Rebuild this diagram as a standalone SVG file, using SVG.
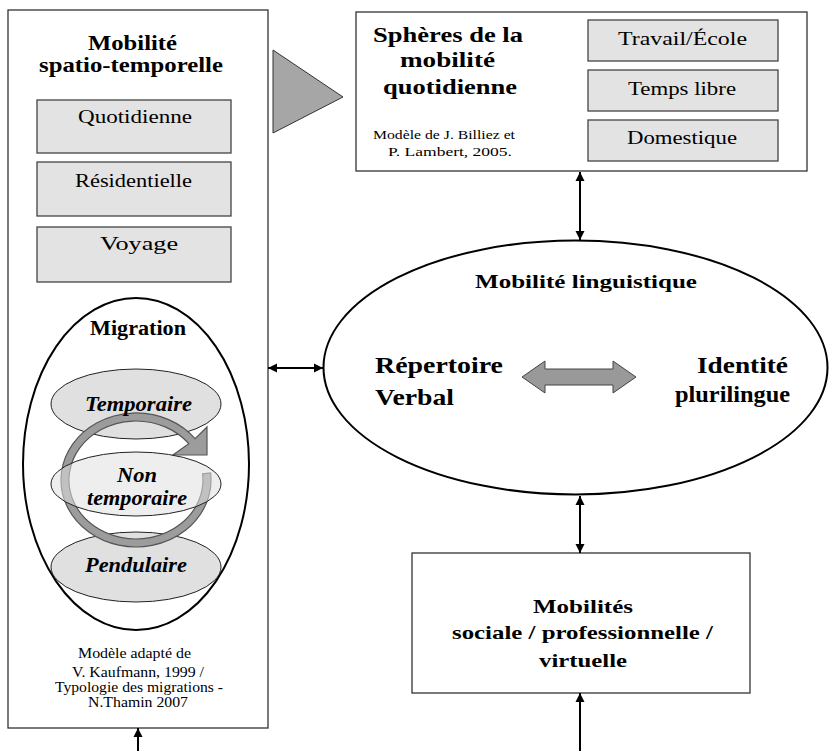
<svg xmlns="http://www.w3.org/2000/svg" width="830" height="751" viewBox="0 0 830 751">
<style>
.box{fill:#ffffff;stroke:#333333;stroke-width:1.3}
.sub{fill:#e3e3e3;stroke:#444444;stroke-width:1.3}
.oval{fill:#e0e0e0;stroke:#222222;stroke-width:1}
.t{font-family:"Liberation Serif","Times New Roman",serif;fill:#000000}
.b{font-weight:bold}
.i{font-style:italic}
.con{stroke:#000000;stroke-width:2;fill:none}
</style>
<defs>
<marker id="ah" viewBox="0 0 10 10" refX="10" refY="5" markerWidth="9" markerHeight="10" markerUnits="userSpaceOnUse" orient="auto-start-reverse">
<path d="M0,0 L10,5 L0,10 z" fill="#000000"/>
</marker>
</defs>
<rect width="830" height="751" fill="#ffffff"/>

<g id="mobilite-spatio-temporelle">
<rect class="box" x="8" y="10" width="260" height="718"/>
<text class="t b" x="88" y="50" font-size="21" textLength="89" lengthAdjust="spacingAndGlyphs">Mobilité</text>
<text class="t b" x="39" y="72" font-size="21" textLength="184" lengthAdjust="spacingAndGlyphs">spatio-temporelle</text>
</g>
<g id="quotidienne">
<rect class="sub" x="37" y="100" width="194" height="53"/>
<text class="t" x="78" y="123" font-size="19" textLength="114" lengthAdjust="spacingAndGlyphs">Quotidienne</text>
</g>
<g id="residentielle">
<rect class="sub" x="37" y="162" width="194" height="54"/>
<text class="t" x="75" y="187" font-size="19" textLength="117" lengthAdjust="spacingAndGlyphs">Résidentielle</text>
</g>
<g id="voyage">
<rect class="sub" x="37" y="227" width="194" height="55"/>
<text class="t" x="100" y="250" font-size="19" textLength="78" lengthAdjust="spacingAndGlyphs">Voyage</text>
</g>

<g id="migration">
<ellipse cx="136" cy="464" rx="113" ry="166" fill="none" stroke="#000000" stroke-width="2"/>
<text class="t b" x="90" y="335" font-size="20" textLength="96" lengthAdjust="spacingAndGlyphs">Migration</text>
</g>
<g id="temporaire">
<ellipse class="oval" cx="136" cy="404" rx="85" ry="35"/>
</g>
<g id="pendulaire">
<ellipse class="oval" cx="136" cy="567" rx="85" ry="35"/>
</g>
<g id="cycle-arrow">
<path d="M210.6,473 A75,67 0 1 1 195.1,438.7 L207,427 L207,455 L173,455 L188.8,443.7 A67,59 0 1 0 202.6,473.8 Z" fill="#9c9c9c" stroke="#555555" stroke-width="1.2"/>
</g>
<g id="non-temporaire">
<ellipse cx="136" cy="484" rx="85" ry="32" fill="#e0e0e0" fill-opacity="0.55" stroke="#222222" stroke-width="1"/>
</g>
<g id="migration-labels">
<text class="t b i" x="85" y="411" font-size="20" textLength="107" lengthAdjust="spacingAndGlyphs">Temporaire</text>
<text class="t b i" x="117" y="482" font-size="20" textLength="40" lengthAdjust="spacingAndGlyphs">Non</text>
<text class="t b i" x="87" y="505" font-size="20" textLength="100" lengthAdjust="spacingAndGlyphs">temporaire</text>
<text class="t b i" x="85" y="572" font-size="20" textLength="102" lengthAdjust="spacingAndGlyphs">Pendulaire</text>
</g>
<g id="source-kaufmann">
<text class="t" x="78" y="658" font-size="14" textLength="113" lengthAdjust="spacingAndGlyphs">Modèle adapté de</text>
<text class="t" x="72" y="677" font-size="14" textLength="132" lengthAdjust="spacingAndGlyphs">V. Kaufmann, 1999 /</text>
<text class="t" x="55" y="692" font-size="14" textLength="168" lengthAdjust="spacingAndGlyphs">Typologie des migrations -</text>
<text class="t" x="88" y="707" font-size="14" textLength="100" lengthAdjust="spacingAndGlyphs">N.Thamin 2007</text>
</g>

<g id="triangle">
<polygon points="273,50 343,97 273,133" fill="#a6a6a6" stroke="#333333" stroke-width="1"/>
</g>

<g id="spheres">
<rect class="box" x="356" y="12" width="451" height="159"/>
<text class="t b" x="373" y="42" font-size="20" textLength="150" lengthAdjust="spacingAndGlyphs">Sphères de la</text>
<text class="t b" x="400" y="67" font-size="20" textLength="95" lengthAdjust="spacingAndGlyphs">mobilité</text>
<text class="t b" x="383" y="94" font-size="20" textLength="134" lengthAdjust="spacingAndGlyphs">quotidienne</text>
<text class="t" x="373" y="139" font-size="13" textLength="142" lengthAdjust="spacingAndGlyphs">Modèle de J. Billiez  et</text>
<text class="t" x="388" y="156" font-size="13" textLength="124" lengthAdjust="spacingAndGlyphs">P. Lambert, 2005.</text>
</g>
<g id="travail-ecole">
<rect class="sub" x="588" y="20" width="190" height="41"/>
<text class="t" x="618" y="45" font-size="18" textLength="129" lengthAdjust="spacingAndGlyphs">Travail/École</text>
</g>
<g id="temps-libre">
<rect class="sub" x="588" y="70" width="190" height="41"/>
<text class="t" x="628" y="95" font-size="18" textLength="108" lengthAdjust="spacingAndGlyphs">Temps libre</text>
</g>
<g id="domestique">
<rect class="sub" x="588" y="120" width="190" height="41"/>
<text class="t" x="627" y="144" font-size="18" textLength="110" lengthAdjust="spacingAndGlyphs">Domestique</text>
</g>

<g id="mobilite-linguistique">
<ellipse cx="575.5" cy="367.5" rx="252" ry="127" fill="#ffffff" stroke="#000000" stroke-width="2"/>
<text class="t b" x="475" y="288" font-size="19" textLength="222" lengthAdjust="spacingAndGlyphs">Mobilité linguistique</text>
<text class="t b" x="375" y="373" font-size="23" textLength="128" lengthAdjust="spacingAndGlyphs">Répertoire</text>
<text class="t b" x="375" y="405" font-size="23" textLength="79" lengthAdjust="spacingAndGlyphs">Verbal</text>
<text class="t b" x="697" y="373" font-size="23" textLength="91" lengthAdjust="spacingAndGlyphs">Identité</text>
<text class="t b" x="675" y="402" font-size="23" textLength="115" lengthAdjust="spacingAndGlyphs">plurilingue</text>
<polygon points="522,377 545,361 545,369 613,369 613,361 636,377 613,393 613,385 545,385 545,393" fill="#999999" stroke="#444444" stroke-width="1"/>
</g>

<g id="mobilites-sociales">
<rect class="box" x="412" y="553" width="338" height="140"/>
<text class="t b" x="533" y="613" font-size="19" textLength="100" lengthAdjust="spacingAndGlyphs">Mobilités</text>
<text class="t b" x="452" y="639" font-size="19" textLength="261" lengthAdjust="spacingAndGlyphs">sociale / professionnelle /</text>
<text class="t b" x="539" y="667" font-size="19" textLength="88" lengthAdjust="spacingAndGlyphs">virtuelle</text>
</g>

<g id="connectors">
<line class="con" x1="268" y1="368" x2="323" y2="368" marker-start="url(#ah)" marker-end="url(#ah)"/>
<line class="con" x1="580" y1="172" x2="580" y2="240" marker-start="url(#ah)" marker-end="url(#ah)"/>
<line class="con" x1="580" y1="496" x2="580" y2="553" marker-start="url(#ah)" marker-end="url(#ah)"/>
<line class="con" x1="580" y1="751" x2="580" y2="693" marker-end="url(#ah)"/>
<line class="con" x1="138" y1="751" x2="138" y2="728" marker-end="url(#ah)"/>
</g>
</svg>
